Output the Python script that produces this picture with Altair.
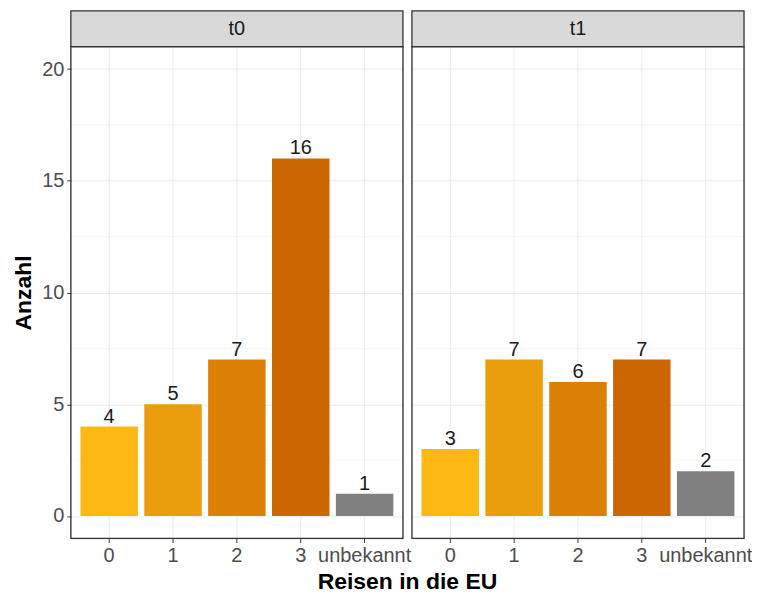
import altair as alt
import pandas as pd

categories = ["0", "1", "2", "3", "unbekannt"]
values_t0 = [4, 5, 7, 16, 1]
values_t1 = [3, 7, 6, 7, 2]
panels = ["t0", "t1"]
bar_colors = ["#FDB813", "#EA9E0E", "#DB7F05", "#CC6600", "#808080"]
y_ticks = [0, 5, 10, 15, 20]
y_minor = [2.5, 7.5, 12.5, 17.5]

W = 333
H = 493
FONT = "Liberation Sans"


def panel(name, vals, first):
    df = pd.DataFrame({"cat": categories, "n": vals})
    yscale = alt.Scale(domain=[-1, 21], nice=False, zero=False)
    x = alt.X(
        "cat:N",
        sort=categories,
        scale=alt.Scale(paddingInner=0.1, paddingOuter=0.15),
        axis=alt.Axis(
            title=None, labelAngle=0, grid=True, gridColor="#EBEBEB", gridWidth=1,
            domain=False, tickColor="#333333", tickSize=4, labelColor="#4D4D4D",
            labelFontSize=20, labelFont=FONT, labelPadding=3,
        ),
    )
    y = alt.Y(
        "n:Q",
        scale=yscale,
        axis=alt.Axis(
            values=y_ticks, grid=True, gridColor="#EBEBEB", gridWidth=1, domain=False,
            title="Anzahl" if first else None,
            titleFontSize=23, titleFont=FONT, titleFontWeight="bold", titleColor="black",
            titlePadding=6,
            labels=first, ticks=first, tickColor="#333333", tickSize=4,
            labelColor="#4D4D4D", labelFontSize=20, labelFont=FONT, labelPadding=3,
        ),
    )
    minor = alt.Chart(pd.DataFrame({"v": y_minor})).mark_rule(
        color="#F2F2F2", strokeWidth=0.7
    ).encode(y=alt.Y("v:Q", scale=yscale))
    bars = alt.Chart(df).mark_bar().encode(
        x=x,
        y=y,
        y2=alt.datum(0),
        color=alt.Color("cat:N", scale=alt.Scale(domain=categories, range=bar_colors), legend=None),
    )
    labels = alt.Chart(df).mark_text(
        baseline="bottom", dy=0, fontSize=20, font=FONT, color="#1A1A1A"
    ).encode(x=alt.X("cat:N", sort=categories), y="n:Q", text="n:Q")
    sdf = pd.DataFrame({"label": [name]})
    border = alt.Chart(sdf).mark_rect(
        filled=False, stroke="#333333", strokeWidth=1.3
    ).encode(x=alt.value(0), x2=alt.value(W), y=alt.value(0), y2=alt.value(H))
    strip = alt.Chart(sdf).mark_rect(
        fill="#D9D9D9", stroke="#333333", strokeWidth=1.3
    ).encode(x=alt.value(0), x2=alt.value(W), y=alt.value(-36), y2=alt.value(0))
    strip_text = alt.Chart(sdf).mark_text(
        fontSize=20, font=FONT, color="#1A1A1A", baseline="middle"
    ).encode(x=alt.value(W / 2), y=alt.value(-18), text="label:N")
    layers = [minor, bars, labels, border, strip, strip_text]
    if first:
        tdf = pd.DataFrame({"t": ["Reisen in die EU"]})
        xt = alt.Chart(tdf).mark_text(
            fontSize=23, font=FONT, fontWeight="bold", color="black", baseline="middle"
        ).encode(x=alt.value(W + 4.5), y=alt.value(H + 44), text="t:N")
        layers.append(xt)
    return alt.layer(*layers).properties(width=W, height=H)


chart = alt.hconcat(
    panel(panels[0], values_t0, True),
    panel(panels[1], values_t1, False),
    spacing=9,
    bounds="flush",
).properties(
    padding={"top": 0, "left": 4, "right": -1, "bottom": 0}
).configure_view(stroke=None).configure(background="white")

chart.save("out.html", embed_options={"renderer": "svg", "actions": False})
